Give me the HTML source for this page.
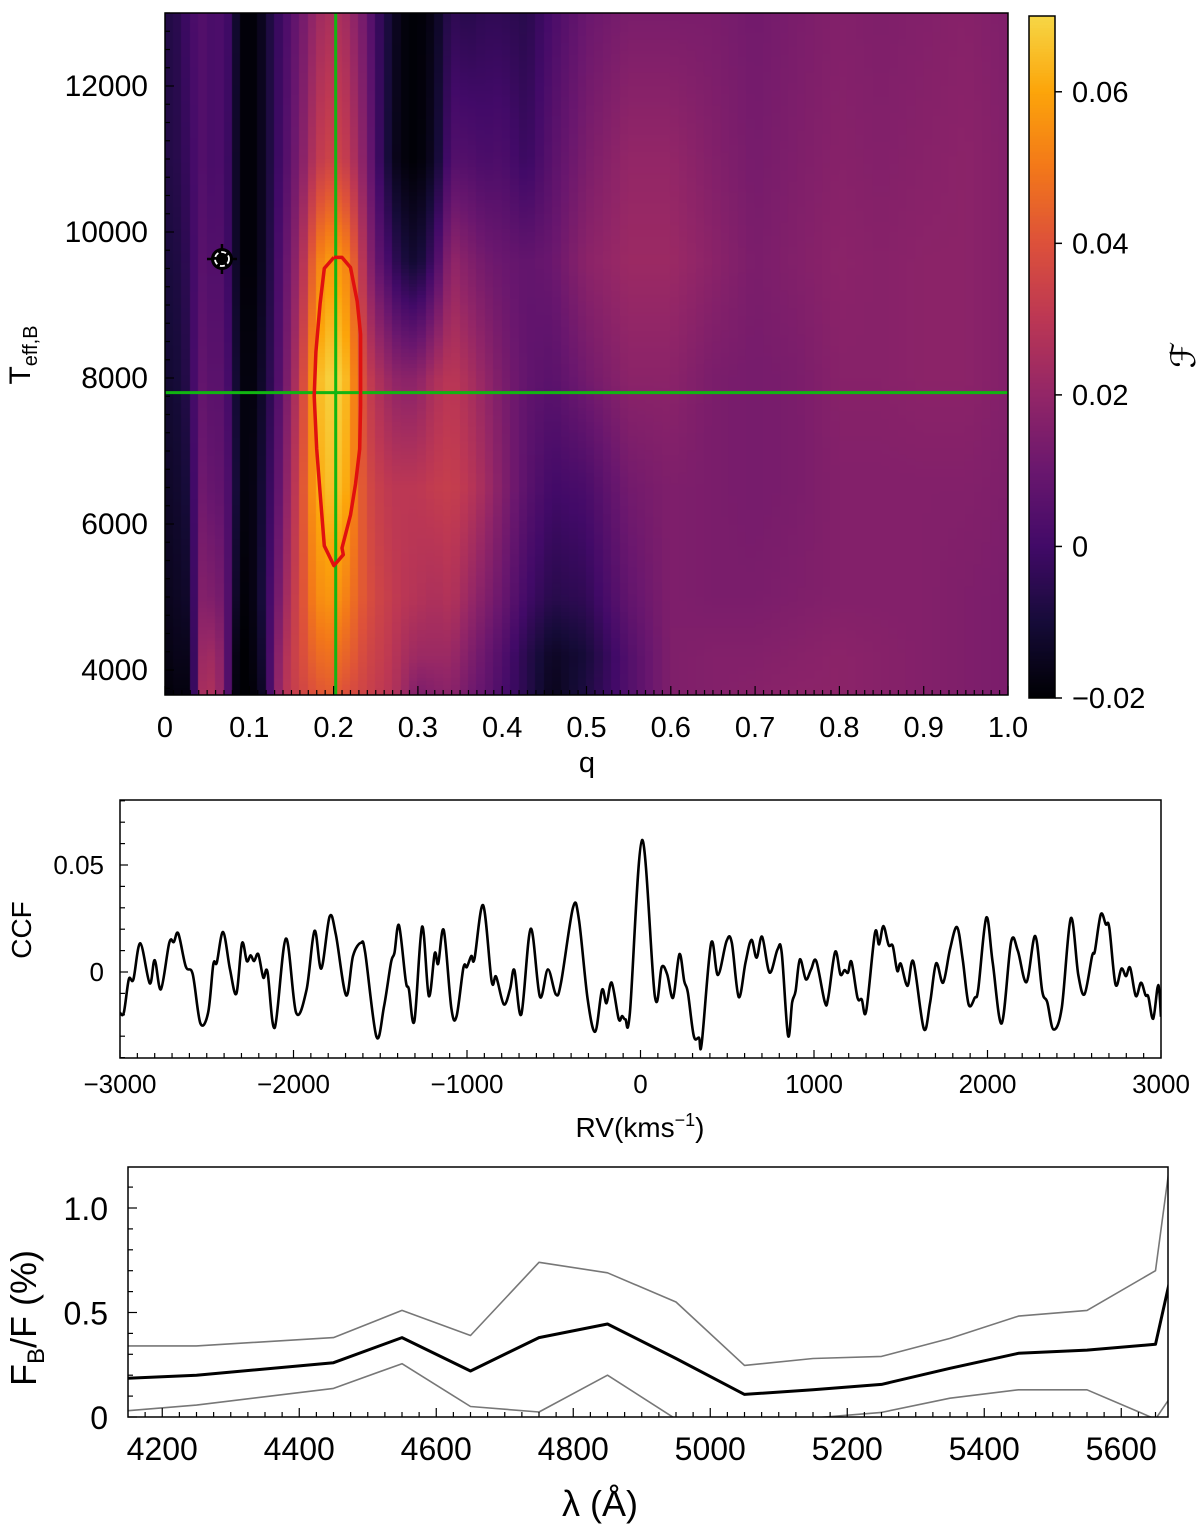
<!DOCTYPE html>
<html><head><meta charset="utf-8">
<style>
html,body{margin:0;padding:0;background:#fff;}
#wrap{position:relative;width:1200px;height:1525px;overflow:hidden;font-family:"Liberation Sans","DejaVu Sans",sans-serif;}
canvas{position:absolute;left:0;top:0;}
svg{position:absolute;left:0;top:0;}
text{font-family:"Liberation Sans","DejaVu Sans",sans-serif;fill:#000;}
</style></head>
<body>
<div id="wrap">
<canvas id="hm" width="1200" height="1525"></canvas>
<svg id="ov" width="1200" height="1525" xmlns="http://www.w3.org/2000/svg"></svg>
</div>
<script>
// ---------- Heatmap data ----------
const qNodes=[0,0.01,0.02,0.03,0.04,0.05,0.06,0.07,0.08,0.09,0.1,0.11,0.12,0.13,0.14,0.15,0.16,0.17,0.18,0.19,0.2,0.21,0.22,0.23,0.24,0.25,0.26,0.27,0.28,0.3,0.32,0.34,0.36,0.38,0.4,0.43,0.46,0.5,0.55,0.6,0.65,0.7,0.75,0.8,0.85,0.9,0.95,1.0];
const tRows=[13000,11000,9600,8000,6500,5000,4200,3650];
const fT13000=[-0.006,-0.008,-0.003,0.0,0.004,0.004,0.0,0.005,-0.006,-0.018,-0.02,-0.018,-0.012,-0.004,0.0,0.006,0.01,0.016,0.022,0.025,0.026,0.025,0.022,0.016,0.01,0.0,-0.006,-0.012,-0.018,-0.02,-0.016,-0.004,-0.006,-0.004,-0.004,-0.006,0.002,0.01,0.014,0.014,0.014,0.012,0.014,0.016,0.015,0.016,0.017,0.015];
const fT11000=[-0.006,-0.008,-0.004,-0.002,0.004,0.004,0.0,0.005,-0.008,-0.018,-0.02,-0.018,-0.012,-0.004,0.002,0.008,0.014,0.022,0.03,0.034,0.035,0.034,0.03,0.022,0.014,0.002,-0.006,-0.014,-0.018,-0.02,-0.014,0.004,0.004,0.002,0.003,-0.002,0.006,0.014,0.02,0.02,0.016,0.013,0.015,0.017,0.016,0.017,0.018,0.016];
const fT9600=[-0.008,-0.01,-0.006,-0.004,0.005,0.006,0.002,0.006,-0.008,-0.018,-0.02,-0.018,-0.012,-0.002,0.006,0.014,0.022,0.036,0.05,0.056,0.058,0.056,0.05,0.036,0.022,0.01,0.004,-0.002,-0.008,-0.012,0.0,0.02,0.016,0.012,0.01,0.008,0.01,0.018,0.022,0.022,0.018,0.014,0.016,0.018,0.017,0.018,0.018,0.016];
const fT8000=[-0.01,-0.012,-0.008,-0.006,0.008,0.008,0.004,0.008,-0.006,-0.016,-0.02,-0.016,-0.01,0.0,0.008,0.02,0.03,0.047,0.062,0.068,0.069,0.068,0.06,0.044,0.034,0.028,0.024,0.02,0.018,0.018,0.026,0.03,0.026,0.02,0.014,0.008,0.006,0.012,0.018,0.018,0.014,0.013,0.014,0.017,0.017,0.018,0.018,0.016];
const fT6500=[-0.012,-0.014,-0.01,-0.01,0.01,0.012,0.006,0.01,-0.004,-0.016,-0.02,-0.014,-0.008,0.004,0.012,0.026,0.034,0.05,0.06,0.064,0.066,0.064,0.058,0.046,0.038,0.034,0.032,0.03,0.03,0.03,0.032,0.033,0.03,0.024,0.016,0.006,0.0,0.002,0.012,0.015,0.014,0.013,0.014,0.016,0.016,0.016,0.016,0.015];
const fT5000=[-0.014,-0.016,-0.012,-0.014,0.012,0.02,0.01,0.016,-0.008,-0.018,-0.02,-0.014,-0.006,0.008,0.018,0.03,0.036,0.046,0.054,0.056,0.057,0.054,0.05,0.044,0.04,0.036,0.034,0.032,0.03,0.028,0.026,0.028,0.022,0.016,0.01,0.0,-0.006,-0.004,0.008,0.015,0.014,0.014,0.015,0.016,0.016,0.016,0.015,0.014];
const fT4200=[-0.016,-0.018,-0.014,-0.018,0.014,0.03,0.016,0.022,-0.014,-0.02,-0.02,-0.016,-0.008,0.012,0.024,0.032,0.036,0.042,0.046,0.048,0.048,0.046,0.044,0.04,0.036,0.034,0.032,0.03,0.026,0.022,0.022,0.022,0.016,0.01,0.004,-0.006,-0.014,-0.01,0.004,0.015,0.016,0.016,0.017,0.018,0.017,0.016,0.015,0.014];
const fT3650=[-0.018,-0.02,-0.016,-0.02,0.016,0.034,0.018,0.024,-0.016,-0.02,-0.02,-0.018,-0.01,0.014,0.026,0.032,0.034,0.038,0.04,0.042,0.042,0.04,0.038,0.036,0.034,0.032,0.03,0.028,0.024,0.014,0.016,0.018,0.012,0.008,0.002,-0.006,-0.016,-0.008,0.004,0.015,0.016,0.017,0.018,0.018,0.017,0.016,0.015,0.014];
const fRows=[fT13000,fT11000,fT9600,fT8000,fT6500,fT5000,fT4200,fT3650];
const cbTicks=[-0.02,0,0.02,0.04,0.06];
const cbTickLabels=["\u22120.02","0","0.02","0.04","0.06"];
const qTicks=[0,0.1,0.2,0.3,0.4,0.5,0.6,0.7,0.8,0.9,1.0];
const qTickLabels=["0","0.1","0.2","0.3","0.4","0.5","0.6","0.7","0.8","0.9","1.0"];
const tTicks=[4000,6000,8000,10000,12000];
const contourQ=[0.2004,0.21,0.22,0.228,0.232,0.232,0.231,0.226,0.22,0.21,0.2115,0.2004,0.189,0.184,0.18,0.177,0.179,0.184,0.189,0.2004];
const contourT=[9652,9652,9514,9049,8597,7631,7028,6546,6123,5671,5580,5430,5701,6425,7028,7752,8356,9019,9501,9652];
const bestQ=0.2025, bestT=7800;
const markerQ=0.0676, markerT=9630;

// ---------- CCF data ----------
const ccfRV=[-3000,-2978,-2949,-2923,-2883,-2829,-2800,-2764,-2716,-2690,-2664,-2621,-2581,-2537,-2492,-2462,-2442,-2406,-2366,-2329,-2297,-2269,-2247,-2227,-2203,-2174,-2150,-2108,-2044,-1985,-1925,-1879,-1840,-1792,-1756,-1697,-1657,-1611,-1587,-1522,-1478,-1438,-1418,-1392,-1353,-1335,-1303,-1259,-1220,-1186,-1166,-1134,-1090,-1060,-1021,-1001,-975,-957,-907,-858,-832,-788,-752,-727,-687,-633,-580,-534,-488,-458,-389,-355,-305,-261,-222,-196,-166,-126,-106,-87,-61,9,83,122,154,188,224,252,273,307,337,353,407,446,496,526,566,605,639,669,701,744,790,814,850,874,894,919,953,983,1013,1062,1082,1122,1152,1176,1196,1216,1251,1275,1301,1351,1375,1400,1430,1454,1480,1500,1539,1573,1633,1669,1704,1744,1784,1824,1857,1891,1927,1947,1993,2030,2082,2136,2175,2225,2275,2315,2344,2380,2428,2480,2523,2559,2603,2619,2653,2682,2702,2738,2772,2798,2822,2855,2885,2911,2927,2955,2984,3000];
const ccfVal=[-0.019,-0.019,-0.0034,-0.0034,0.0134,-0.0053,0.0055,-0.0081,0.0137,0.014,0.018,0.0025,-0.001,-0.0239,-0.019,0.0036,0.0044,0.0187,0.0012,-0.0101,0.0134,0.0051,0.0078,0.0051,0.0083,-0.0026,0.0,-0.026,0.0156,-0.019,-0.0084,0.0192,0.0016,0.0259,0.0176,-0.0109,0.0075,0.0137,0.009,-0.0302,-0.0159,0.0044,0.009,0.0218,-0.0042,-0.0081,-0.0229,0.0212,-0.0112,0.0087,0.0039,0.0195,-0.0171,-0.0206,0.002,0.0023,0.0075,0.0062,0.0312,-0.0042,-0.0022,-0.0151,-0.0081,0.0009,-0.0198,0.0202,-0.0115,0.0012,-0.0104,-0.005,0.0301,0.0246,-0.0125,-0.0279,-0.0084,-0.0146,-0.005,-0.0218,-0.0206,-0.0221,-0.019,0.0617,-0.0115,0.0023,-0.0011,-0.012,0.0083,-0.0042,-0.0097,-0.0299,-0.0307,-0.0333,0.0134,-0.0014,0.0145,0.0137,-0.0117,0.0044,0.015,0.0067,0.0165,-0.0003,0.0106,0.009,-0.0296,-0.0143,-0.0089,0.0059,-0.0034,0.0012,0.0051,-0.014,-0.012,0.0095,-0.0011,0.0009,-0.0003,0.0047,-0.012,-0.0128,-0.0182,0.0181,0.0129,0.0215,0.0126,0.0121,0.0005,0.0039,-0.0065,0.0048,-0.0265,-0.0143,0.004,-0.005,0.0106,0.021,0.0059,-0.0151,-0.012,-0.0078,0.0254,0.0044,-0.024,0.014,0.0098,-0.0047,0.0168,-0.0089,-0.014,-0.0268,-0.0167,0.0251,-0.0011,-0.0104,0.0075,0.0098,0.0269,0.0223,0.0207,-0.0058,0.0016,-0.0019,0.002,-0.0112,-0.005,-0.0109,-0.0115,-0.0218,-0.0061,-0.0209];
const rvTicks=[-3000,-2000,-1000,0,1000,2000,3000];
const rvTickLabels=["\u22123000","\u22122000","\u22121000","0","1000","2000","3000"];
const ccfTicks=[0,0.05];
const ccfTickLabels=["0","0.05"];

// ---------- Flux ratio data ----------
const lam=[4150,4250,4450,4550,4650,4750,4850,4950,5050,5150,5250,5350,5450,5550,5650,5670];
const fluxMean=[0.185,0.20,0.26,0.38,0.22,0.38,0.445,0.28,0.108,0.13,0.156,0.233,0.305,0.32,0.348,0.64];
const fluxUpper=[0.34,0.34,0.38,0.51,0.39,0.74,0.69,0.55,0.247,0.28,0.29,0.376,0.483,0.51,0.70,1.19];
const fluxLower=[0.03,0.057,0.137,0.255,0.05,0.024,0.2,-0.01,-0.05,-0.005,0.022,0.09,0.13,0.13,-0.01,0.086];
const lamTicks=[4200,4400,4600,4800,5000,5200,5400,5600];
const fluxTicks=[0,0.5,1.0];
const fluxTickLabels=["0","0.5","1.0"];

// ---------- helpers ----------
const NS="http://www.w3.org/2000/svg";
const svg=document.getElementById('ov');
function mk(tag,attrs,parent){const e=document.createElementNS(NS,tag);for(const k in attrs)e.setAttribute(k,attrs[k]);(parent||svg).appendChild(e);return e;}
function txt(s,x,y,size,anchor,parent,name){const t=mk('text',{x:x,y:y,'font-size':size,'text-anchor':anchor||'middle'},parent);t.textContent=s;


return t;}
function line(x1,y1,x2,y2,sw,col,parent,name){const l=mk('line',{x1:x1,y1:y1,x2:x2,y2:y2,stroke:col||'#000','stroke-width':sw||1},parent);


return l;}

const inf=[[0,0,4],[22,11,57],[66,10,104],[106,23,110],[147,38,103],[188,55,84],[221,81,58],[243,120,25],[252,165,10],[246,215,70]];
function cmap(v){let t=(v+0.02)/0.09;t=Math.max(0,Math.min(1,t))*(inf.length-1);const i=Math.min(inf.length-2,Math.floor(t));const f=t-i;const a=inf[i],b=inf[i+1];
return 'rgb('+Math.round(a[0]+(b[0]-a[0])*f)+','+Math.round(a[1]+(b[1]-a[1])*f)+','+Math.round(a[2]+(b[2]-a[2])*f)+')';}
function interp1(xs,ys,x){if(x<=xs[0])return ys[0];for(let i=0;i<xs.length-1;i++){if(x<=xs[i+1]){const f=(x-xs[i])/(xs[i+1]-xs[i]);return ys[i]+(ys[i+1]-ys[i])*f;}}return ys[ys.length-1];}
function fval(q,T){const col=fRows.map(r=>interp1(qNodes,r,q));const ts=tRows.slice().reverse(),cs=col.slice().reverse();return interp1(ts,cs,T);}

// ---------- Top panel ----------
const HX0=165,HX1=1008,HY0=13,HY1=695;
const T0=3650,T1=13000;
const xq=q=>HX0+(HX1-HX0)*q;
const yT=T=>86+(12000-T)*0.073;
const ctx=document.getElementById('hm').getContext('2d');
const dq=0.01,dT=50;
ctx.save();ctx.beginPath();ctx.rect(HX0,HY0,HX1-HX0,HY1-HY0);ctx.clip();
for(let q=0;q<1-1e-9;q+=dq){for(let T=T0;T<T1;T+=dT){
  const v=fval(q+dq/2,T+dT/2);ctx.fillStyle=cmap(v);
  const x0=xq(q),x1=xq(q+dq),y0=yT(Math.min(T+dT,T1)),y1=yT(T);
  ctx.fillRect(Math.floor(x0),Math.floor(y0),Math.ceil(x1)-Math.floor(x0),Math.ceil(y1)-Math.floor(y0));}}
ctx.restore();
// colorbar
const CX0=1029,CX1=1055,CY0=16,CY1=698;
const yC=v=>CY1-(v+0.02)/0.09*(CY1-CY0);
ctx.save();ctx.beginPath();ctx.rect(CX0,CY0,CX1-CX0,CY1-CY0);ctx.clip();
for(let i=0;i<256;i++){const v=-0.02+0.09*i/255;ctx.fillStyle=cmap(v);const ya=yC(v+0.09/255),yb=yC(v);ctx.fillRect(CX0,Math.floor(ya),CX1-CX0,Math.ceil(yb-ya)+1);}
ctx.restore();

const gTop=mk('g',{});
line(xq(bestQ),HY0,xq(bestQ),HY1,3,'#11b511',gTop,'best-q-line');
line(HX0,yT(bestT),HX1,yT(bestT),3,'#11b511',gTop,'best-teff-line');
let cp='';for(let i=0;i<contourQ.length;i++){cp+=(i?'L':'M')+xq(contourQ[i]).toFixed(1)+','+yT(contourT[i]).toFixed(1);}
const cont=mk('path',{d:cp,fill:'none',stroke:'#e01010','stroke-width':3.5,'stroke-linejoin':'round'},gTop);


const mg=mk('g',{},gTop);
const mx=xq(markerQ),my=yT(markerT);
mk('line',{x1:mx-15,y1:my,x2:mx+15,y2:my,stroke:'#000','stroke-width':2.5},mg);
mk('line',{x1:mx,y1:my-15,x2:mx,y2:my+15,stroke:'#000','stroke-width':2.5},mg);
mk('circle',{cx:mx,cy:my,r:11,fill:'#000'},mg);
mk('circle',{cx:mx,cy:my,r:7,fill:'none',stroke:'#fff','stroke-width':1.8,'stroke-dasharray':'5 3'},mg);
const fr=mk('rect',{x:HX0,y:HY0,width:HX1-HX0,height:HY1-HY0,fill:'none',stroke:'#000','stroke-width':1.5},gTop);

for(let i=0;i<=100;i++){const x=xq(i/100);const major=(i%10===0);line(x,HY1,x,HY1-(major?9:5),1.2,'#000',gTop);}
qTicks.forEach((q,i)=>txt(qTickLabels[i],xq(q),737,29,'middle',gTop,'q-tick-label'));
for(let T=3750;T<=13000;T+=250){const major=(T%2000===0);line(HX0,yT(T),HX0+(major?9:5),yT(T),1.2,'#000',gTop);}
tTicks.forEach(T=>txt(String(T),148,yT(T)+10,30,'end',gTop,'teff-tick-label'));
txt('q',587,772,29,'middle',gTop,'x-axis-title');
const yl=mk('text',{x:0,y:0,'font-size':30,'text-anchor':'middle',transform:'translate(30,355) rotate(-90)'},gTop);

yl.innerHTML='T<tspan font-size="20" dy="7">eff,B</tspan>';
const cbf=mk('rect',{x:CX0,y:CY0,width:CX1-CX0,height:CY1-CY0,fill:'none',stroke:'#000','stroke-width':1.5},gTop);

cbTicks.forEach((v,i)=>{line(CX1,yC(v),CX1+7,yC(v),1.5,'#000',gTop,'colorbar-tick');txt(cbTickLabels[i],1072,yC(v)+10,29,'start',gTop,'colorbar-tick-label');});
const cbl=mk('text',{x:0,y:0,'font-size':34,'font-style':'italic','text-anchor':'middle',transform:'translate(1195,355) rotate(-90)','font-family':'"Liberation Serif",serif'},gTop);
cbl.textContent='\u2131';

// ---------- CCF panel ----------
const gC=mk('g',{});
const PX0=120,PX1=1161,PY0=800,PY1=1058;
const xr=rv=>640.5+rv*0.1735;
const yc=c=>972-c*2140;
const pts=ccfRV.map((r,i)=>[xr(r),yc(ccfVal[i])]);
let d='M'+pts[0][0].toFixed(1)+','+pts[0][1].toFixed(1);
for(let i=0;i<pts.length-1;i++){const p0=pts[Math.max(0,i-1)],p1=pts[i],p2=pts[i+1],p3=pts[Math.min(pts.length-1,i+2)];
 const c1x=p1[0]+(p2[0]-p0[0])/6,c1y=p1[1]+(p2[1]-p0[1])/6,c2x=p2[0]-(p3[0]-p1[0])/6,c2y=p2[1]-(p3[1]-p1[1])/6;
 d+='C'+c1x.toFixed(1)+','+c1y.toFixed(1)+' '+c2x.toFixed(1)+','+c2y.toFixed(1)+' '+p2[0].toFixed(1)+','+p2[1].toFixed(1);}
const cc=mk('clipPath',{id:'ccfclip'},gC);mk('rect',{x:PX0,y:PY0,width:PX1-PX0,height:PY1-PY0},cc);
const ccl=mk('path',{d:d,fill:'none',stroke:'#000','stroke-width':2.6,'clip-path':'url(#ccfclip)','stroke-linejoin':'round'},gC);

const cfr=mk('rect',{x:PX0,y:PY0,width:PX1-PX0,height:PY1-PY0,fill:'none',stroke:'#000','stroke-width':1.5},gC);

for(let r=-3000;r<=3000;r+=100){const major=(r%1000===0);line(xr(r),PY1,xr(r),PY1-(major?8:5),1.2,'#000',gC);}
rvTicks.forEach((r,i)=>txt(rvTickLabels[i],xr(r),1093,26,'middle',gC,'rv-tick-label'));
for(let k=-4;k<=8;k++){const c=k/100;const y=yc(c);if(y<PY0||y>PY1)continue;const major=(k%5===0);line(PX0,y,PX0+(major?8:5),y,1.2,'#000',gC);}
ccfTicks.forEach((c,i)=>txt(ccfTickLabels[i],104,yc(c)+9,26,'end',gC,'ccf-tick-label'));
const cxl=mk('text',{x:640,y:1137,'font-size':28,'text-anchor':'middle'},gC);
cxl.innerHTML='RV(kms<tspan font-size="18" dy="-11">\u22121</tspan><tspan dy="11">)</tspan>';

const cyl=mk('text',{x:0,y:0,'font-size':28,'text-anchor':'middle',transform:'translate(31,930) rotate(-90)'},gC);
cyl.textContent='CCF';

// ---------- Flux panel ----------
const gF=mk('g',{});
const FX0=128,FX1=1168,FY0=1167,FY1=1417;
const xl=l=>FX0+(l-4150)*0.685;
const yf=f=>1417-f*209;
const fc=mk('clipPath',{id:'fclip'},gF);mk('rect',{x:FX0,y:FY0,width:FX1-FX0,height:FY1-FY0},fc);
function poly(arr,sw,col,name){const p=lam.map((l,i)=>xl(l).toFixed(1)+','+yf(arr[i]).toFixed(1)).join(' ');
 const e=mk('polyline',{points:p,fill:'none',stroke:col,'stroke-width':sw,'clip-path':'url(#fclip)','stroke-linejoin':'round'},gF);
 
 }
poly(fluxUpper,1.6,'#777','upper-bound-line');
poly(fluxLower,1.6,'#777','lower-bound-line');
poly(fluxMean,3,'#000','flux-ratio-line');
const ffr=mk('rect',{x:FX0,y:FY0,width:FX1-FX0,height:FY1-FY0,fill:'none',stroke:'#000','stroke-width':1.5},gF);

for(let l=4175;l<=5670;l+=25){const major=(l%200===0);line(xl(l),FY1,xl(l),FY1-(major?9:5),1.2,'#000',gF);}
lamTicks.forEach(l=>txt(String(l),xl(l),1460,32,'middle',gF,'lambda-tick-label'));
for(let k=0;k<=11;k++){const f=k/10;const major=(k%5===0);line(FX0,yf(f),FX0+(major?9:5),yf(f),1.2,'#000',gF);}
fluxTicks.forEach((f,i)=>txt(fluxTickLabels[i],108,yf(f)+12,32,'end',gF,'flux-tick-label'));
const fxl=mk('text',{x:600,y:1516,'font-size':36,'text-anchor':'middle'},gF);
fxl.textContent='\u03bb (\u00c5)';
const fyl=mk('text',{x:0,y:0,'font-size':36,'text-anchor':'middle',transform:'translate(36,1318) rotate(-90)'},gF);
fyl.innerHTML='F<tspan font-size="24" dy="8">B</tspan><tspan dy="-8">/F (%)</tspan>';

</script>
</body></html>
